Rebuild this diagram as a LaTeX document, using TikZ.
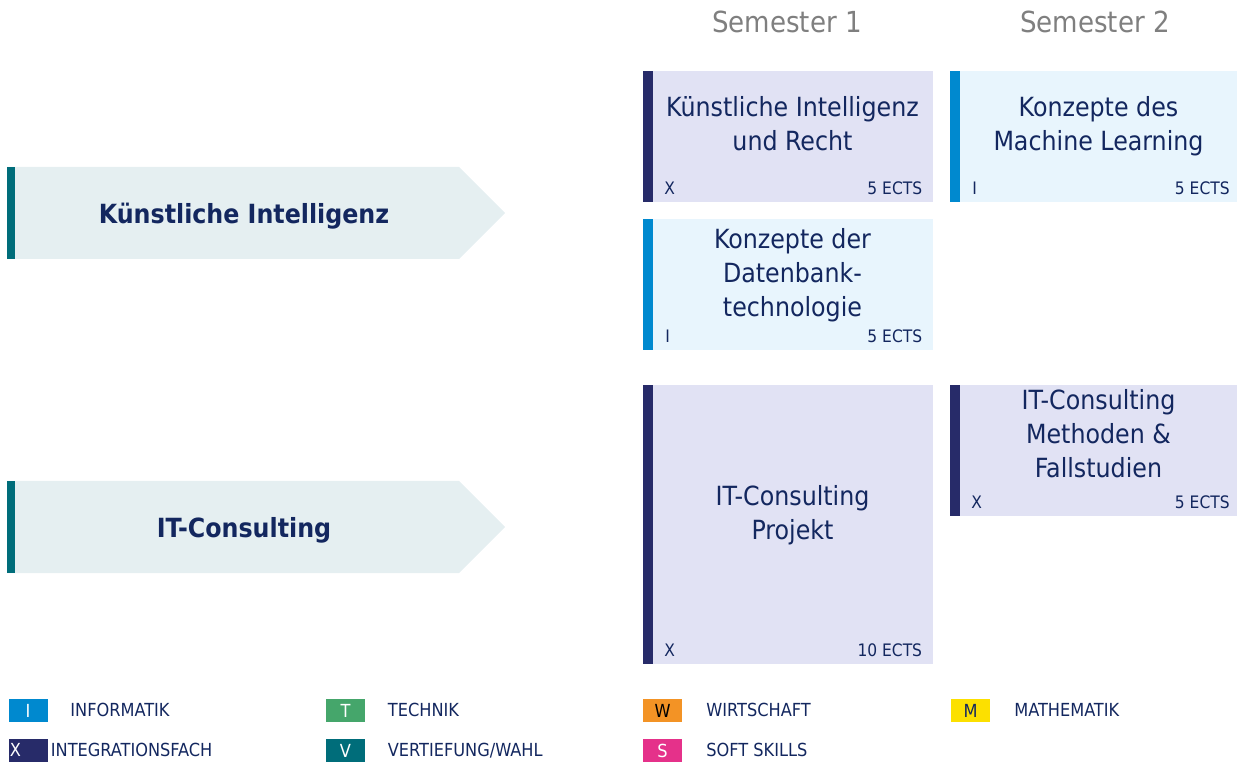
\documentclass[tikz,border=0pt]{standalone}
\usepackage{fontspec}
\setmainfont{DejaVu Sans Condensed}[BoldFont={DejaVu Sans Condensed Bold}]
\definecolor{navytext}{HTML}{13275F}
\definecolor{xbarc}{HTML}{272B69}
\definecolor{xfill}{HTML}{E1E2F4}
\definecolor{ibarc}{HTML}{0089CF}
\definecolor{ifill}{HTML}{E8F5FD}
\definecolor{arrfill}{HTML}{E5EFF1}
\definecolor{tealc}{HTML}{006D7A}
\definecolor{headgray}{HTML}{7F7F7F}
\definecolor{tcol}{HTML}{45A66B}
\definecolor{wcol}{HTML}{F39325}
\definecolor{scol}{HTML}{E5318A}
\definecolor{mcol}{HTML}{FCE000}
\begin{document}
\begin{tikzpicture}[x=0.5pt,y=-0.5pt,
  cbox/.style={anchor=north west, inner sep=0pt, outer sep=0pt, draw=none},
  ctitle/.style={anchor=base, align=center, inner sep=0pt, text=navytext, font=\fontsize{13.2}{17}\selectfont},
  clab/.style={inner sep=0pt, text=navytext, font=\fontsize{8.6}{10}\selectfont},
  atitle/.style={anchor=base, inner sep=0pt, text=navytext, font=\fontsize{13.2}{16}\selectfont\bfseries},
  head/.style={anchor=base, inner sep=0pt, text=headgray, font=\fontsize{14.5}{17}\selectfont},
  lsq/.style={inner sep=0pt, minimum width=19.5pt, minimum height=11.5pt, text=white, font=\fontsize{9}{10}\selectfont},
  ltext/.style={anchor=base west, inner sep=0pt, text=navytext, font=\fontsize{9}{10}\selectfont}
]
\useasboundingbox (0,0) rectangle (1237,764);

% headings
\node[head] (s1) at (787,33) {Semester 1};
\node[head] (s2) at (1095,33) {Semester 2};

% arrows
\fill[arrfill] (7,167) -- (459,167) -- (505,213) -- (459,259) -- (7,259) -- cycle;
\fill[tealc] (7,167) rectangle (15,259);
\node[atitle] (aki) at (244,224) {Künstliche Intelligenz};
\fill[arrfill] (7,481) -- (459,481) -- (505,527) -- (459,573) -- (7,573) -- cycle;
\fill[tealc] (7,481) rectangle (15,573);
\node[atitle] (ait) at (244,538) {IT-Consulting};

% box A
\node[cbox, fill=xfill, minimum width=145pt, minimum height=65.5pt] (ba) at (643,71) {};
\fill[xbarc] (ba.north west) rectangle ([xshift=4.75pt]ba.south west);
\node[ctitle] (baT) at (792.5,151) {Künstliche Intelligenz\\und Recht};
\node[clab, anchor=base west] (baC) at (664,195) {X};
\node[clab, anchor=base east] (baE) at (922.5,195) {5 ECTS};

% box B
\node[cbox, fill=ifill, minimum width=143.5pt, minimum height=65.5pt] (bb) at (950,71) {};
\fill[ibarc] (bb.north west) rectangle ([xshift=4.75pt]bb.south west);
\node[ctitle] (bbT) at (1098.5,151) {Konzepte des\\Machine Learning};
\node[clab, anchor=base west] (bbC) at (972,195) {I};
\node[clab, anchor=base east] (bbE) at (1230,195) {5 ECTS};

% box C
\node[cbox, fill=ifill, minimum width=145pt, minimum height=65.5pt] (bc) at (643,219) {};
\fill[ibarc] (bc.north west) rectangle ([xshift=4.75pt]bc.south west);
\node[ctitle] (bcT) at (792.5,316.5) {Konzepte der\\Datenbank-\\technologie};
\node[clab, anchor=base west] (bcC) at (665,342.7) {I};
\node[clab, anchor=base east] (bcE) at (922.5,342.7) {5 ECTS};

% box D
\node[cbox, fill=xfill, minimum width=145pt, minimum height=139.5pt] (bd) at (643,385) {};
\fill[xbarc] (bd.north west) rectangle ([xshift=4.75pt]bd.south west);
\node[ctitle] (bdT) at (792.5,539.5) {IT-Consulting\\Projekt};
\node[clab, anchor=base west] (bdC) at (664,656.7) {X};
\node[clab, anchor=base east] (bdE) at (922.5,656.7) {10 ECTS};

% box E
\node[cbox, fill=xfill, minimum width=143.5pt, minimum height=65.5pt] (be) at (950,385) {};
\fill[xbarc] (be.north west) rectangle ([xshift=4.75pt]be.south west);
\node[ctitle] (beT) at (1098.5,477.3) {IT-Consulting\\Methoden \&\\Fallstudien};
\node[clab, anchor=base west] (beC) at (971,508.3) {X};
\node[clab, anchor=base east] (beE) at (1230,508.3) {5 ECTS};

% legend
\node[lsq, fill=ibarc] (lI) at (28,710.5) {I};
\node[ltext] (lIt) at (70,716.5) {INFORMATIK};
\node[lsq, fill=xbarc] (lX) at (28,750.5) {};
\node[anchor=base west, inner sep=0pt, text=white, font=\fontsize{9}{10}\selectfont] (lXl) at (9.5,756.5) {X};
\node[ltext] (lXt) at (50.5,756.5) {INTEGRATIONSFACH};
\node[lsq, fill=tcol] (lT) at (345.5,710.5) {T};
\node[ltext] (lTt) at (387.5,716.5) {TECHNIK};
\node[lsq, fill=tealc] (lV) at (345.5,750.5) {V};
\node[ltext] (lVt) at (387.5,756.5) {VERTIEFUNG/WAHL};
\node[lsq, fill=wcol, text=black] (lW) at (662.5,710.5) {W};
\node[ltext] (lWt) at (706,716.5) {WIRTSCHAFT};
\node[lsq, fill=scol] (lS) at (662.5,750.5) {S};
\node[ltext] (lSt) at (706,756.5) {SOFT SKILLS};
\node[lsq, fill=mcol, text=navytext] (lM) at (970.5,710.5) {M};
\node[ltext] (lMt) at (1014,716.5) {MATHEMATIK};
\end{tikzpicture}
\end{document}
